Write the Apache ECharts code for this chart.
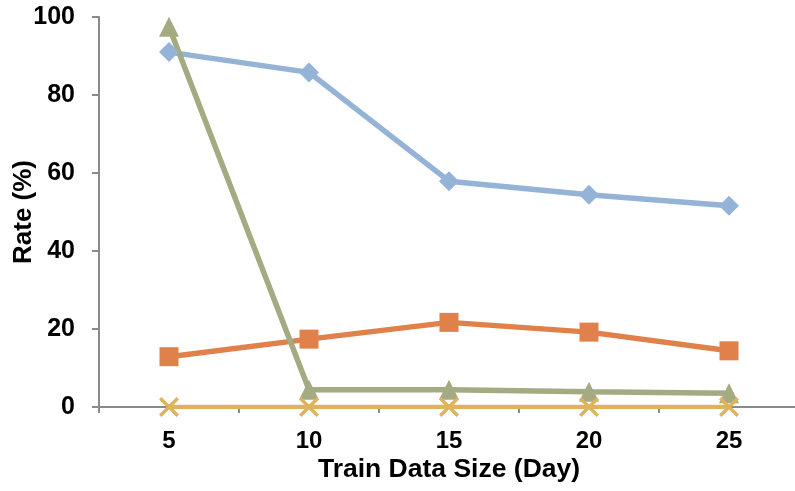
<!DOCTYPE html>
<html>
<head>
<meta charset="utf-8">
<script src="https://cdn.jsdelivr.net/npm/echarts@6/dist/echarts.min.js"></script>
<style>html,body{margin:0;padding:0;background:#fff;}#c{width:795px;height:491px;}</style>
</head>
<body>
<div id="c"></div>
<script>
var categories = ['5', '10', '15', '20', '25'];
var blueValues = [91.0, 85.8, 57.9, 54.4, 51.6];
var orangeValues = [12.9, 17.4, 21.7, 19.2, 14.4];
var greenValues = [97.5, 4.4, 4.4, 3.9, 3.5];
var goldValues = [0, 0, 0, 0, 0];
var yTicks = [0, 20, 40, 60, 80, 100];

var FONT = '"Liberation Sans", Arial, sans-serif';
var crossPath = 'path://M0,1.2 L1.2,0 L10,8.8 L8.8,10 Z M8.8,0 L10,1.2 L1.2,10 L0,8.8 Z';
var axisColor = '#8a8a8a';

var chart = echarts.init(document.getElementById('c'), null, {renderer: 'canvas'});
chart.setOption({
  animation: false,
  backgroundColor: '#ffffff',
  grid: {left: 99, top: 17, width: 700, height: 390, containLabel: false, outerBoundsMode: 'none'},
  xAxis: {
    type: 'category',
    data: categories,
    boundaryGap: true,
    name: 'Train Data Size (Day)',
    nameLocation: 'middle',
    nameGap: 49,
    nameMoveOverlap: false,
    nameTextStyle: {fontFamily: FONT, fontWeight: 'bold', fontSize: 26.5, color: '#000'},
    axisLine: {lineStyle: {color: axisColor, width: 2}},
    axisTick: {show: true, length: 6, alignWithLabel: false, lineStyle: {color: axisColor, width: 2}},
    axisLabel: {fontFamily: FONT, fontWeight: 'bold', fontSize: 24, color: '#000', margin: 22},
    splitLine: {show: false}
  },
  yAxis: {
    type: 'value',
    min: yTicks[0],
    max: yTicks[yTicks.length - 1],
    interval: 20,
    name: 'Rate (%)',
    nameLocation: 'middle',
    nameGap: 62,
    nameMoveOverlap: false,
    nameTextStyle: {fontFamily: FONT, fontWeight: 'bold', fontSize: 26, color: '#000'},
    axisLine: {show: true, lineStyle: {color: axisColor, width: 2}},
    axisTick: {show: true, length: 7, lineStyle: {color: axisColor, width: 2}},
    axisLabel: {fontFamily: FONT, fontWeight: 'bold', fontSize: 25, color: '#000', margin: 24},
    splitLine: {show: false}
  },
  series: [
    {
      type: 'line', data: blueValues, symbol: 'diamond', symbolSize: 20,
      lineStyle: {color: '#95B3D7', width: 5.5}, itemStyle: {color: '#95B3D7'}
    },
    {
      type: 'line', data: orangeValues, symbol: 'rect', symbolSize: 19,
      lineStyle: {color: '#E0804A', width: 5.5}, itemStyle: {color: '#E0804A'}
    },
    {
      type: 'line', data: greenValues, symbol: 'triangle', symbolSize: [20, 20],
      lineStyle: {color: '#A4AB82', width: 5.5}, itemStyle: {color: '#A4AB82'}
    },
    {
      type: 'line', data: goldValues, symbol: crossPath, symbolSize: 20,
      lineStyle: {color: '#DDB45C', width: 4.5}, itemStyle: {color: '#DDB45C'}
    }
  ]
});
</script>
</body>
</html>
